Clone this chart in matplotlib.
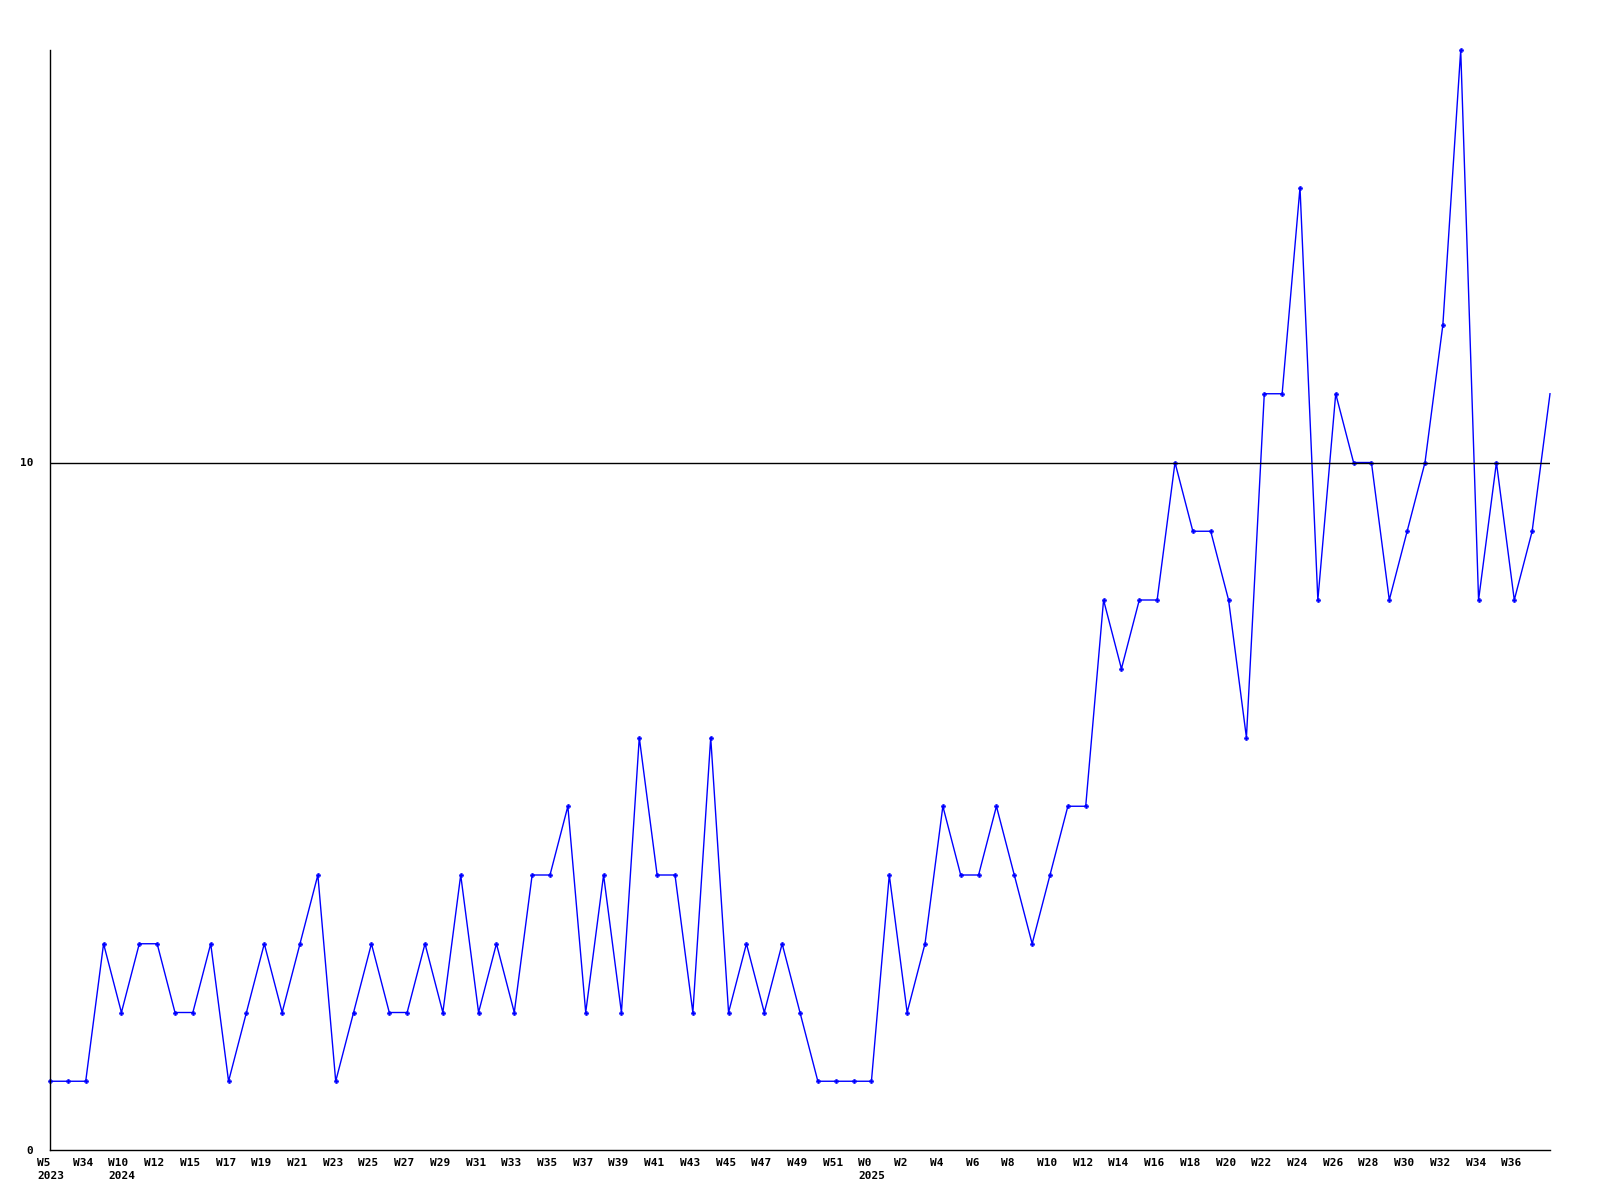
import numpy as np
import matplotlib.pyplot as plt
from matplotlib.transforms import ScaledTranslation

# weekly counts, one per point
counts = [1, 1, 1, 3, 2, 3, 3, 2, 2, 3,
          1, 2, 3, 2, 3, 4, 1, 2, 3, 2,
          2, 3, 2, 4, 2, 3, 2, 4, 4, 5,
          2, 4, 2, 6, 4, 4, 2, 6, 2, 3,
          2, 3, 2, 1, 1, 1, 1, 4, 2, 3,
          5, 4, 4, 5, 4, 3, 4, 5, 5, 8,
          7, 8, 8, 10, 9, 9, 8, 6, 11, 11,
          14, 8, 11, 10, 10, 8, 9, 10, 12, 16,
          8, 10, 8, 9, 11]

# labels on every second point
week_labels = ["W5\n2023", "W34", "W10\n2024", "W12", "W15", "W17", "W19", "W21",
               "W23", "W25", "W27", "W29", "W31", "W33", "W35", "W37", "W39",
               "W41", "W43", "W45", "W47", "W49", "W51", "W0\n2025", "W2", "W4",
               "W6", "W8", "W10", "W12", "W14", "W16", "W18", "W20", "W22",
               "W24", "W26", "W28", "W30", "W32", "W34", "W36"]

y_ticks = [0, 10]

FONT = dict(family="DejaVu Sans Mono", weight="bold", size=8)

fig = plt.figure(figsize=(16, 12), dpi=100)
ax = fig.add_axes([50 / 1600, 50 / 1200, 1500 / 1600, 1100 / 1200])

x = np.arange(len(counts))
# last point sits on the plot edge, drawn without a marker
ax.plot(x, counts, color="#0000ff", lw=1, marker="P", ms=3.2, mew=0.3,
        markevery=list(range(len(counts) - 1)), zorder=2, clip_on=False)
ax.axhline(10, color="black", lw=1, zorder=3)

ax.set_xlim(0, len(counts) - 1)
ax.set_ylim(0, 16)

for s in ["top", "right"]:
    ax.spines[s].set_visible(False)
for s in ["left", "bottom"]:
    ax.spines[s].set_linewidth(1)
    ax.spines[s].set_color("black")

ax.set_xticks(x[::2][:len(week_labels)])
ax.set_xticklabels(week_labels, linespacing=1.3, **FONT)
ax.set_yticks(y_ticks)
ax.set_yticklabels([str(v) for v in y_ticks], **FONT)
ax.tick_params(axis="x", length=0, pad=6)
ax.tick_params(axis="y", length=0, pad=12)

shift = ScaledTranslation(-13 / 100, 0, fig.dpi_scale_trans)
for lab in ax.get_xticklabels():
    lab.set_horizontalalignment("left")
    lab.set_verticalalignment("top")
    lab.set_transform(lab.get_transform() + shift)

fig.savefig("out.png", dpi=100)
